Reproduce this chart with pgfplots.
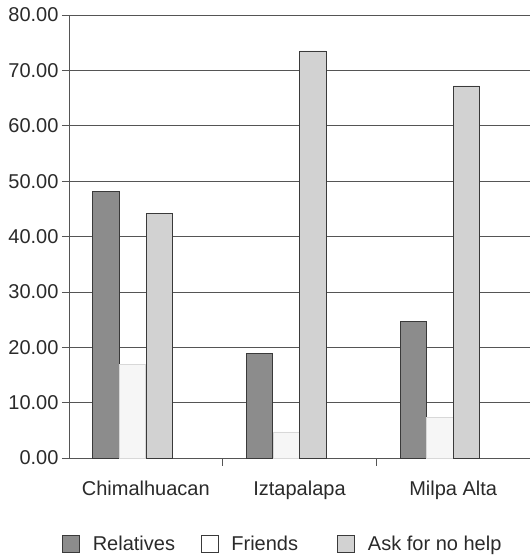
\documentclass[border=0pt]{standalone}
\usepackage{fontspec}
\setmainfont{Liberation Sans}
\usepackage{pgfplots}
\pgfplotsset{compat=1.18}

\definecolor{relfill}{HTML}{8C8C8C}
\definecolor{frifill}{HTML}{F6F6F6}
\definecolor{askfill}{HTML}{D2D2D2}
\definecolor{edge}{HTML}{3A3A3A}
\definecolor{gridc}{HTML}{555555}
\definecolor{txt}{HTML}{2A2A2A}

\begin{document}
\begin{tikzpicture}
\path[use as bounding box] (-69pt,-102pt) rectangle (463pt,458pt);
\begin{axis}[
  at={(0pt,0pt)}, anchor=south west,
  scale only axis, width=461pt, height=443pt,
  xmin=-0.5, xmax=2.5, ymin=0, ymax=80,
  clip=false,
  axis x line*=bottom, axis y line*=left,
  axis line style={draw=gridc, line width=0.8pt},
  ytick={0,10,...,80},
  yticklabel style={/pgf/number format/.cd, fixed, fixed zerofill, precision=2, assume math mode=true},
  ymajorgrids, grid style={draw=gridc, line width=0.7pt},
  ytick style={draw=gridc, line width=0.7pt},
  tick align=outside, major tick length=7pt,
  xtick={0,1,2},
  xticklabels={Chimalhuacan, Iztapalapa, Milpa Alta},
  xtick style={draw=none},
  xticklabel style={yshift=-12pt},
  tick label style={font=\fontsize{20}{24}\selectfont, text=txt},
  ybar, bar width=0.17,
  legend columns=3,
  legend style={at={(0,0)}, anchor=west, xshift=-7pt, yshift=-86pt,
    draw=none, fill=none, font=\fontsize{20}{24}\selectfont,
    text=txt, column sep=0pt, inner sep=0pt},
  legend image code/.code={\draw[#1, line width=0.6pt] (0pt,-8.5pt) rectangle (17pt,8.5pt);},
  legend cell align=left,
]
% relatives
\addplot[fill=relfill, draw=edge, line width=0.7pt, bar shift=-0.26, forget plot]
  coordinates {(0,48.2) (1,18.9) (2,24.6)};
% friends
\addplot[fill=frifill, draw=frifill!75!gray, line width=0.5pt, bar shift=-0.087, forget plot]
  coordinates {(0,16.9) (1,4.7) (2,7.3)};
% asked nobody for help
\addplot[fill=askfill, draw=edge, line width=0.7pt, bar shift=0.087, forget plot]
  coordinates {(0,44.1) (1,73.5) (2,67.2)};
\addlegendimage{fill=relfill, draw=edge}
\addlegendimage{fill=white, draw=edge}
\addlegendimage{fill=askfill, draw=edge}
\legend{\makebox[117pt][l]{\hspace{11pt}Relatives},
        \makebox[115pt][l]{\hspace{11pt}Friends},
        \makebox[140pt][l]{\hspace{11pt}Ask for no help}}
% category separators below the baseline
\draw[gridc, line width=0.8pt] (axis cs:0.5,0) -- ([yshift=-8pt]axis cs:0.5,0);
\draw[gridc, line width=0.8pt] (axis cs:1.5,0) -- ([yshift=-8pt]axis cs:1.5,0);
\end{axis}
\end{tikzpicture}
\end{document}
